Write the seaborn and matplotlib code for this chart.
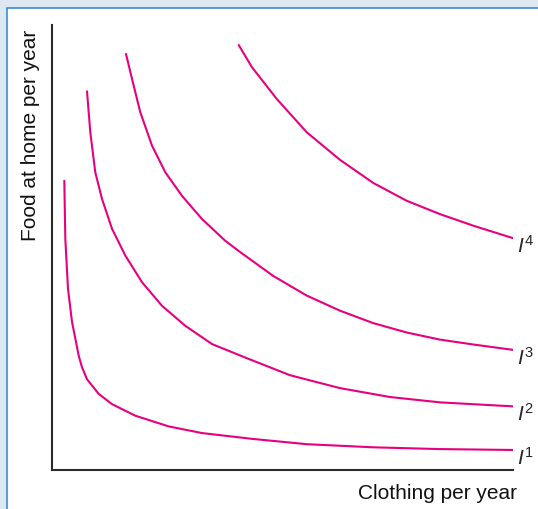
import pandas as pd
import matplotlib
matplotlib.use('Agg')
import matplotlib.pyplot as plt
from matplotlib.patches import Rectangle
import seaborn as sns

# indifference curves (arbitrary units 0-10)
i1_x = [0.267, 0.289, 0.347, 0.434, 0.579, 0.650, 0.759, 1.013, 1.302, 1.807, 2.531, 3.254,
        4.338, 5.525, 6.970, 8.416, 10.0]
i1_y = [6.50, 5.19, 4.07, 3.33, 2.57, 2.31, 2.04, 1.71, 1.48, 1.22, 0.98, 0.83,
        0.70, 0.58, 0.51, 0.47, 0.45]

i2_x = [0.759, 0.831, 0.939, 1.085, 1.302, 1.590, 1.952, 2.386, 2.892, 3.471, 4.208, 5.163,
        6.247, 7.332, 8.416, 10.0]
i2_y = [8.51, 7.59, 6.69, 6.09, 5.42, 4.82, 4.22, 3.69, 3.24, 2.83, 2.52, 2.13,
        1.84, 1.64, 1.52, 1.43]

i3_x = [1.605, 1.735, 1.915, 2.169, 2.458, 2.820, 3.254, 3.759, 4.078, 4.800, 5.525, 6.247,
        6.970, 7.694, 8.416, 9.139, 10.0]
i3_y = [9.35, 8.79, 8.04, 7.29, 6.69, 6.16, 5.64, 5.15, 4.90, 4.36, 3.92, 3.58,
        3.30, 3.09, 2.93, 2.82, 2.70]

i4_x = [4.050, 4.338, 4.874, 5.525, 6.247, 6.970, 7.694, 8.416, 9.139, 10.0]
i4_y = [9.55, 9.05, 8.34, 7.59, 6.97, 6.45, 6.05, 5.75, 5.49, 5.21]

curve_names = ['1', '2', '3', '4']

frames = []
for name, xs, ys in zip(curve_names, [i1_x, i2_x, i3_x, i4_x], [i1_y, i2_y, i3_y, i4_y]):
    frames.append(pd.DataFrame({'clothing': xs, 'food': ys, 'curve': name}))
data = pd.concat(frames, ignore_index=True)

sns.set_style('white')
plt.rcParams['font.family'] = ['Liberation Sans', 'DejaVu Sans']
plt.rcParams['mathtext.fontset'] = 'custom'
plt.rcParams['mathtext.it'] = 'Liberation Sans:italic'
plt.rcParams['mathtext.rm'] = 'Liberation Sans'

magenta = '#e6007e'

fig = plt.figure(figsize=(5.38, 5.10), dpi=100)
fig.patch.set_facecolor('#dde8f2')
# white panel with a blue frame line (only top/left edges fall inside the picture)
fig.add_artist(Rectangle((7 / 538, -0.1), 1.2, 0.1 + 501 / 510, transform=fig.transFigure,
                         facecolor='white', edgecolor='#3d8ed0', linewidth=1.2, zorder=-10))

ax = fig.add_axes([52 / 538, 39 / 510, 461 / 538, 445 / 510])
ax.patch.set_alpha(0)
sns.lineplot(data=data, x='clothing', y='food', hue='curve', palette=[magenta] * 4,
             estimator=None, sort=False, legend=False, linewidth=1.5, ax=ax)
for line in ax.lines:
    line.set_solid_joinstyle('round')

ax.set_xlim(0, 10)
ax.set_ylim(0, 10)
ax.set_xticks([])
ax.set_yticks([])
ax.set_xlabel('')
ax.set_ylabel('')
for side in ['top', 'right']:
    ax.spines[side].set_visible(False)
for side in ['left', 'bottom']:
    ax.spines[side].set_color('#2b2b2b')
    ax.spines[side].set_linewidth(1.5)

for name, xs, ys in zip(curve_names, [i1_x, i2_x, i3_x, i4_x], [i1_y, i2_y, i3_y, i4_y]):
    ax.annotate(r'$I^{' + name + '}$', xy=(xs[-1], ys[-1]), xytext=(3, 3),
                textcoords='offset points', ha='left', va='top', fontsize=15,
                annotation_clip=False)

fig.text(517 / 538, (510 - 499) / 510, 'Clothing per year', ha='right', va='baseline',
         fontsize=15, color='#111111')
fig.text(21 / 538, (510 - 241) / 510, 'Food at home per year', rotation=90,
         ha='left', va='bottom', fontsize=15, color='#111111')

fig.savefig('out.png', dpi=100, facecolor=fig.get_facecolor())
